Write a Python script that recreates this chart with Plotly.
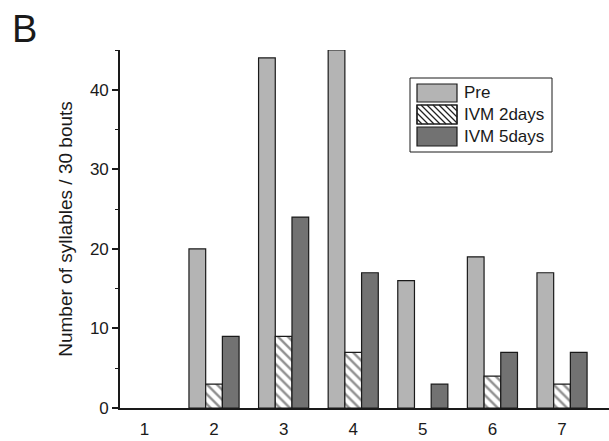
import plotly.graph_objects as go

# Syllable counts per category for each treatment phase
categories = [1, 2, 3, 4, 5, 6, 7]
pre = [0, 20, 44, 45, 16, 19, 17]
ivm_2days = [0, 3, 9, 7, 0, 4, 3]
ivm_5days = [0, 9, 24, 17, 3, 7, 7]
y_ticks = [0, 10, 20, 30, 40]
series_names = ["Pre", "IVM 2days", "IVM 5days"]

FONT = "Arial, Liberation Sans, sans-serif"
INK = "#1a1a1a"
PRE_COLOR = "#b4b4b4"
DARK_COLOR = "#727272"

W, H = 609, 441
ML, MR, MT, MB = 120, 0, 50, 33


def px_to_paper(px, py):
    """Convert pixel coordinates (origin top-left) to paper coordinates."""
    return (px - ML) / (W - ML - MR), (H - MB - py) / (H - MT - MB)


def outline(values, width=1.2):
    # zero-height bars get no outline so nothing is drawn for them
    return [0 if v == 0 else width for v in values]


fig = go.Figure()
fig.add_trace(go.Bar(
    x=categories, y=pre, name=series_names[0], showlegend=False,
    marker=dict(color=PRE_COLOR, line=dict(color=INK, width=outline(pre))),
))
fig.add_trace(go.Bar(
    x=categories, y=ivm_2days, name=series_names[1], showlegend=False,
    marker=dict(color="white", line=dict(color=INK, width=outline(ivm_2days)),
                pattern=dict(shape="\\", fgcolor="#222222", bgcolor="white",
                             size=7, solidity=0.35)),
))
fig.add_trace(go.Bar(
    x=categories, y=ivm_5days, name=series_names[2], showlegend=False,
    marker=dict(color=DARK_COLOR, line=dict(color=INK, width=outline(ivm_5days))),
))

# Boxed key with wide swatches, laid out in pixel space
shapes = []
annotations = []


def rect(x0, y0, x1, y1, fill, lw=1.2):
    a = px_to_paper(x0, y1)
    b = px_to_paper(x1, y0)
    shapes.append(dict(type="rect", xref="paper", yref="paper",
                       x0=a[0], y0=a[1], x1=b[0], y1=b[1],
                       fillcolor=fill, line=dict(color=INK, width=lw), layer="above"))


def seg(x0, y0, x1, y1, lw=1.2):
    a = px_to_paper(x0, y0)
    b = px_to_paper(x1, y1)
    shapes.append(dict(type="line", xref="paper", yref="paper",
                       x0=a[0], y0=a[1], x1=b[0], y1=b[1],
                       line=dict(color="#222222", width=lw), layer="above"))


box = (410, 78, 552, 152)
rect(*box, "white", 1.0)
sw_x0, sw_x1 = 417, 457
rows = [(84, 102), (105, 124), (127, 146)]
fills = [PRE_COLOR, "white", DARK_COLOR]
for (y0, y1), fill, name in zip(rows, fills, series_names):
    rect(sw_x0, y0, sw_x1, y1, fill)
    if fill == "white":
        # diagonal hatching running top-left to bottom-right: y - x = c
        step = 6
        c = y0 - sw_x1
        while c < y1 - sw_x0:
            xa = max(sw_x0, y0 - c)
            xb = min(sw_x1, y1 - c)
            if xb > xa:
                seg(xa, xa + c, xb, xb + c)
            c += step
        rect(sw_x0, y0, sw_x1, y1, "rgba(0,0,0,0)")
    tx, ty = px_to_paper(462, (y0 + y1) / 2)
    annotations.append(dict(text=name, xref="paper", yref="paper", x=tx, y=ty,
                            xanchor="left", yanchor="middle", showarrow=False,
                            font=dict(size=17, family=FONT, color=INK)))

bx, by = px_to_paper(10, 6)
annotations.append(dict(text="B", xref="paper", yref="paper", x=bx, y=by,
                        xanchor="left", yanchor="top", showarrow=False,
                        font=dict(size=38, family=FONT, color=INK)))

fig.update_layout(
    width=W, height=H,
    margin=dict(l=ML, r=MR, t=MT, b=MB),
    paper_bgcolor="white", plot_bgcolor="white",
    barmode="group", bargap=0.28, bargroupgap=0,
    font=dict(family=FONT, color=INK, size=17),
    showlegend=False,
    xaxis=dict(
        range=[0.649, 7.675],
        tickmode="array", tickvals=categories, ticktext=[str(c) for c in categories],
        showline=True, linecolor=INK, linewidth=1.6,
        ticks="", showgrid=False, zeroline=False,
        tickfont=dict(size=17), ticklabelstandoff=5,
    ),
    yaxis=dict(
        range=[0, 45],
        tickmode="array", tickvals=y_ticks,
        showline=True, linecolor=INK, linewidth=1.6,
        ticks="outside", ticklen=6, tickwidth=1.5, tickcolor=INK,
        minor=dict(tickvals=[5, 15, 25, 35, 45], ticks="outside", ticklen=3,
                   tickwidth=1.3, tickcolor=INK),
        showgrid=False, zeroline=False,
        tickfont=dict(size=17),
        title=dict(text="Number of syllables / 30 bouts", font=dict(size=19), standoff=12),
    ),
    shapes=shapes,
    annotations=annotations,
)

fig.write_html("out.html")
